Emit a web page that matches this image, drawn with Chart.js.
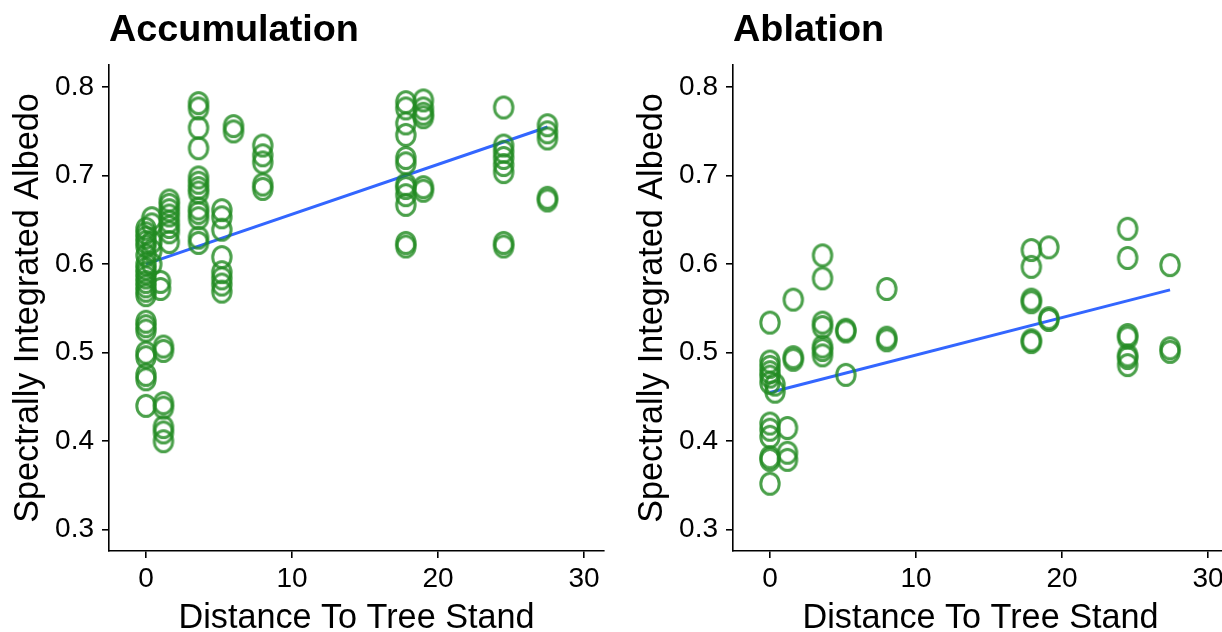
<!DOCTYPE html>
<html>
<head>
<meta charset="utf-8">
<script src="https://cdn.jsdelivr.net/npm/chart.js@4/dist/chart.umd.min.js"></script>
<style>
  html, body { margin: 0; padding: 0; background: #fff; }
  body { width: 1222px; height: 632px; position: relative; overflow: hidden; }
  .panel { position: absolute; top: 0; }
</style>
</head>
<body>
<div class="panel" style="left:0px;"><canvas id="acc" width="612" height="632"></canvas></div>
<div class="panel" style="left:624px;"><canvas id="abl" width="612" height="632"></canvas></div>
<script>
// ---------- Data ----------
const panelTitles = ["Accumulation", "Ablation"];
const xAxisTitle = "Distance To Tree Stand";
const yAxisTitle = "Spectrally Integrated Albedo";
const xTicks = [0, 10, 20, 30];
const yTicks = [0.3, 0.4, 0.5, 0.6, 0.7, 0.8];

// Accumulation
const accDistance = [
  0,0,0,0,0,0,0,0,0,0,0,0,0,0,0,0,0,0,0,0,0,0,
  0.4,0.4,0.4,0.4,0.4,
  1.0,1.0,
  1.2,1.2,1.2,1.2,1.2,1.2,1.2,
  1.6,1.6,1.6,1.6,1.6,1.6,1.6,1.6,
  3.6,3.6,3.6,3.6,3.6,3.6,3.6,3.6,3.6,3.6,3.6,3.6,3.6,
  5.2,5.2,5.2,5.2,5.2,5.2,5.2,5.2,
  6.0,6.0,
  8.0,8.0,8.0,8.0,8.0,
  17.8,17.8,17.8,17.8,17.8,17.8,17.8,17.8,17.8,17.8,17.8,17.8,
  19.0,19.0,19.0,19.0,19.0,19.0,
  24.5,24.5,24.5,24.5,24.5,24.5,24.5,24.5,
  27.5,27.5,27.5,27.5,27.5
];
const accAlbedo = [
  0.64,0.635,0.63,0.625,0.62,0.61,0.60,0.595,0.59,0.585,0.58,0.575,0.57,0.565,0.535,0.53,0.525,0.50,0.495,0.475,0.47,0.44,
  0.652,0.645,0.625,0.615,0.60,
  0.58,0.572,
  0.507,0.502,0.443,0.438,0.416,0.41,0.40,
  0.672,0.667,0.661,0.655,0.648,0.642,0.636,0.625,
  0.782,0.776,0.754,0.731,0.698,0.692,0.686,0.681,0.663,0.658,0.652,0.63,0.624,
  0.661,0.653,0.639,0.608,0.591,0.584,0.577,0.569,
  0.756,0.75,
  0.734,0.723,0.715,0.69,0.685,
  0.783,0.776,0.759,0.746,0.72,0.714,0.69,0.686,0.678,0.667,0.624,0.62,
  0.785,0.776,0.77,0.766,0.687,0.683,
  0.777,0.734,0.727,0.72,0.712,0.704,0.624,0.62,
  0.757,0.749,0.742,0.675,0.672
];
const accFitDistance = [0, 27.5];
const accFitAlbedo = [0.600, 0.755];

// Ablation
const ablDistance = [
  0,0,0,0,0,0,0,0,0,0,0,0,
  0.35,0.35,
  1.2,1.2,1.2,
  1.6,1.6,1.6,
  3.6,3.6,3.6,3.6,3.6,3.6,3.6,
  5.2,5.2,5.2,
  8.0,8.0,8.0,
  17.9,17.9,17.9,17.9,17.9,17.9,
  19.1,19.1,19.1,
  24.5,24.5,24.5,24.5,24.5,24.5,24.5,
  27.4,27.4,27.4
];
const ablAlbedo = [
  0.534,0.49,0.484,0.478,0.473,0.466,0.42,0.413,0.405,0.382,0.379,0.352,
  0.464,0.456,
  0.415,0.387,0.379,
  0.56,0.495,0.492,
  0.61,0.584,0.534,0.529,0.507,0.503,0.497,
  0.526,0.524,0.475,
  0.572,0.517,0.514,
  0.616,0.597,0.56,0.557,0.514,0.512,
  0.619,0.539,0.537,
  0.64,0.607,0.52,0.517,0.497,0.494,0.486,
  0.599,0.505,0.501
];
const ablFitDistance = [0, 27.4];
const ablFitAlbedo = [0.455, 0.571];

// ---------- Styling ----------
const FONT = "'Liberation Sans', Arial, sans-serif";
const pointColor = 'rgba(34,139,34,0.82)';
const lineColor = '#3366FF';

// open ring marker (slightly tall, as in the reference)
function makeRing() {
  const c = document.createElement('canvas');
  c.width = 26; c.height = 28;
  const g = c.getContext('2d');
  g.strokeStyle = pointColor;
  g.lineWidth = 3;
  g.beginPath();
  g.ellipse(13, 14, 9.2, 10.6, 0, 0, Math.PI * 2);
  g.stroke();
  return c;
}
const ring = makeRing();

const titlePlugin = {
  id: 'panelTitle',
  afterDraw(chart, args, opts) {
    const ctx = chart.ctx;
    ctx.save();
    ctx.fillStyle = '#000';
    ctx.font = "bold 37.8px " + FONT;
    ctx.textBaseline = 'alphabetic';
    ctx.textAlign = 'left';
    ctx.fillText(opts.text, chart.chartArea.left, 41);
    ctx.restore();
  }
};

function pairs(xs, ys) { return xs.map((x, i) => ({ x: x, y: ys[i] })); }

function makeChart(id, title, dist, alb, fitX, fitY, xMin, xMax, padRight) {
  return new Chart(document.getElementById(id), {
    type: 'scatter',
    data: {
      datasets: [
        {
          data: pairs(dist, alb),
          pointStyle: ring,
          pointRadius: 10,
          pointHoverRadius: 10,
          showLine: false
        },
        {
          type: 'line',
          data: pairs(fitX, fitY),
          borderColor: lineColor,
          borderWidth: 3,
          pointRadius: 0,
          fill: false
        }
      ]
    },
    options: {
      responsive: false,
      animation: false,
      events: [],
      layout: { autoPadding: false, padding: { top: 65, right: padRight, left: 0, bottom: 0 } },
      plugins: {
        legend: { display: false },
        tooltip: { enabled: false },
        panelTitle: { text: title }
      },
      scales: {
        x: {
          type: 'linear',
          min: xMin, max: xMax,
          afterBuildTicks: s => { s.ticks = xTicks.map(v => ({ value: v })); },
          afterFit: s => { s.height = 81; },
          border: { display: true, color: '#000', width: 1.6 },
          grid: { drawOnChartArea: false, drawTicks: true, tickLength: 7, color: '#000', lineWidth: 1.6 },
          ticks: { color: '#000', font: { family: FONT, size: 28 }, padding: 4, maxRotation: 0 },
          title: { display: true, text: xAxisTitle, color: '#000', font: { family: FONT, size: 34.2 }, padding: { top: 0, bottom: -7 } }
        },
        y: {
          type: 'linear',
          min: 0.276, max: 0.825,
          afterBuildTicks: s => { s.ticks = yTicks.map(v => ({ value: v })); },
          afterFit: s => { s.width = 109; },
          border: { display: true, color: '#000', width: 1.6 },
          grid: { drawOnChartArea: false, drawTicks: true, tickLength: 7, color: '#000', lineWidth: 1.6 },
          ticks: { color: '#000', font: { family: FONT, size: 28 }, padding: 8, callback: v => v.toFixed(1) },
          title: { display: true, text: yAxisTitle, color: '#000', font: { family: FONT, size: 34.2 }, padding: { top: 8, bottom: 0 } }
        }
      }
    },
    plugins: [titlePlugin]
  });
}

// both panels share the same geometry; the right one is cut by the page edge as in the reference
makeChart('acc', panelTitles[0], accDistance, accAlbedo, accFitDistance, accFitAlbedo, -2.53, 31.37, 8);
makeChart('abl', panelTitles[1], ablDistance, ablAlbedo, ablFitDistance, ablFitAlbedo, -2.53, 31.37, 8);
</script>
</body>
</html>
